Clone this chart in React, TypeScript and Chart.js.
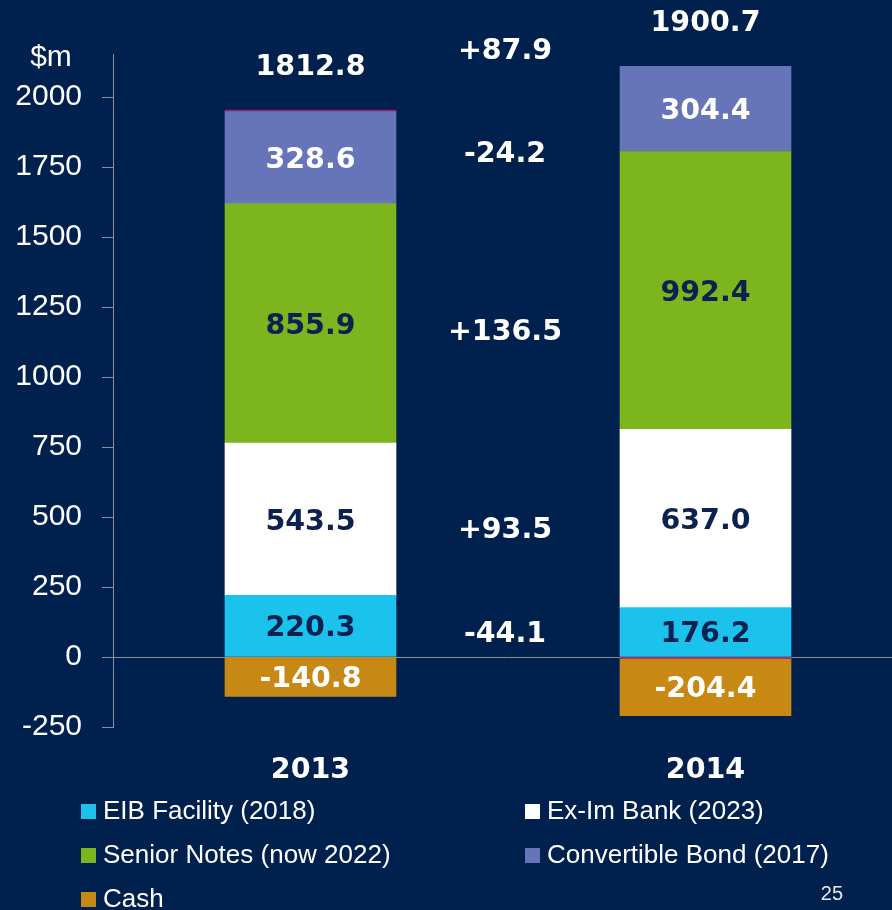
import React, { useEffect, useRef } from 'react';
import { Chart, registerables } from 'chart.js';

Chart.register(...registerables);

// ---- data ----
const categories = ['2013', '2014'];
const eibFacility = [220.3, 176.2];
const exImBank = [543.5, 637.0];
const seniorNotes = [855.9, 992.4];
const convertibleBond = [328.6, 304.4];
const otherItems = [5.3, -4.9];
const cash = [-140.8, -204.4];
const yMin = -250;
const yMax = 2154;
const yStep = 250;
const unitLabel = '$m';
const pageNumber = '25';

const BG = '#00204E';
const AXIS = '#8A8F9E';
const DARK_TEXT = '#0B2150';
const BOLD_FONT = 'bold 28.5px "DejaVu Sans"';

const seriesDefs = [
  { label: 'EIB Facility (2018)', data: eibFacility, color: '#1BC2EC', text: DARK_TEXT, legend: true, delta: 89 },
  { label: 'Ex-Im Bank (2023)', data: exImBank, color: '#FFFFFF', text: DARK_TEXT, legend: true, delta: 461 },
  { label: 'Senior Notes (now 2022)', data: seniorNotes, color: '#7DB51E', text: DARK_TEXT, legend: true, delta: 1168 },
  { label: 'Convertible Bond (2017)', data: convertibleBond, color: '#6674B8', text: '#FFFFFF', legend: true, delta: 1804 },
  { label: 'Other', data: otherItems, color: '#A0197A', text: null, legend: false, delta: null },
  { label: 'Cash', data: cash, color: '#C78913', text: '#FFFFFF', legend: true, delta: null },
];

const fmtDelta = (v: number) => (v >= 0 ? '+' : '') + v.toFixed(1);

const overlayPlugin = {
  id: 'overlay',
  afterDatasetsDraw(chart: any) {
    const ctx = chart.ctx;
    const ys = chart.scales.y;
    ctx.save();
    ctx.font = BOLD_FONT;
    ctx.textAlign = 'center';
    ctx.textBaseline = 'alphabetic';
    const capHalf = 10.4;

    // segment value labels
    seriesDefs.forEach((s, i) => {
      if (!s.text) return;
      const meta = chart.getDatasetMeta(i);
      meta.data.forEach((el: any, j: number) => {
        const cy = (el.y + el.base) / 2;
        ctx.fillStyle = s.text;
        ctx.fillText(s.data[j].toFixed(1), el.x, cy + capHalf);
      });
    });

    // totals above bars
    const totals = categories.map((_, j) => seriesDefs.reduce((a, s) => a + s.data[j], 0));
    const tops = categories.map((_, j) =>
      seriesDefs.reduce((a, s) => a + (s.data[j] > 0 ? s.data[j] : 0), 0)
    );
    const meta0 = chart.getDatasetMeta(0);
    ctx.fillStyle = '#FFFFFF';
    categories.forEach((_, j) => {
      const x = meta0.data[j].x;
      const yTop = ys.getPixelForValue(tops[j]);
      ctx.fillText(totals[j].toFixed(1), x, yTop - 46 + capHalf);
    });

    // deltas between the bars
    const midX = (meta0.data[0].x + meta0.data[1].x) / 2 - 3;
    seriesDefs.forEach((s) => {
      if (s.delta === null) return;
      const d = s.data[1] - s.data[0];
      ctx.fillText(fmtDelta(d), midX, ys.getPixelForValue(s.delta) + capHalf);
    });
    ctx.fillText(fmtDelta(totals[1] - totals[0]), midX, ys.getPixelForValue(2175) + capHalf);

    // unit label
    ctx.font = '30px "Liberation Sans"';
    ctx.fillText(unitLabel, 51, 66);

    // legend (two columns)
    const items = seriesDefs.filter((s) => s.legend);
    ctx.font = '26px "Liberation Sans"';
    ctx.textAlign = 'left';
    const colX = [81, 525];
    items.forEach((s, k) => {
      const col = k % 2;
      const row = Math.floor(k / 2);
      const baseY = 819 + row * 44;
      ctx.fillStyle = s.color;
      ctx.fillRect(colX[col], baseY - 15, 15, 15);
      ctx.fillStyle = '#FFFFFF';
      ctx.fillText(s.label, colX[col] + 22, baseY);
    });

    // page number
    ctx.font = '20px "Liberation Sans"';
    ctx.fillStyle = '#E6E8EE';
    ctx.textAlign = 'right';
    ctx.fillText(pageNumber, 843, 900);
    ctx.restore();
  },
};

export default function App() {
  const ref = useRef<HTMLCanvasElement | null>(null);

  useEffect(() => {
    if (!ref.current) return;
    const chart = new Chart(ref.current, {
      type: 'bar',
      data: {
        labels: categories,
        datasets: seriesDefs.map((s) => ({
          label: s.label,
          data: s.data,
          backgroundColor: s.color,
          borderWidth: 0,
          barThickness: 171,
        })),
      },
      options: {
        responsive: false,
        animation: false,
        devicePixelRatio: 1,
        layout: { padding: { top: 54, right: 17, bottom: 123, left: 0 } },
        plugins: { legend: { display: false }, tooltip: { enabled: false } },
        scales: {
          x: {
            stacked: true,
            grid: { display: false, drawTicks: false },
            border: { display: false },
            ticks: { color: '#FFFFFF', font: { family: 'DejaVu Sans', size: 28.5, weight: 'bold' }, padding: 26 },
            afterFit: (s: any) => { s.height = 60; },
          },
          y: {
            stacked: true,
            min: yMin,
            max: yMax,
            ticks: {
              stepSize: yStep,
              includeBounds: false,
              color: '#FFFFFF',
              font: { family: 'Liberation Sans', size: 30 },
              padding: 20,
              callback: (v: any) => String(v),
            },
            grid: {
              drawOnChartArea: true,
              color: (c: any) => (c.tick && c.tick.value === 0 ? AXIS : 'rgba(0,0,0,0)'),
              tickColor: AXIS,
              tickLength: 11,
              lineWidth: 1,
            },
            border: { display: true, color: AXIS, width: 1 },
            afterFit: (s: any) => { s.width = 113; },
          },
        },
      },
      plugins: [overlayPlugin],
    });
    return () => chart.destroy();
  }, []);

  return (
    <div style={{ position: 'fixed', left: 0, top: 0, width: 892, height: 910, overflow: 'hidden', background: BG }}>
      <canvas ref={ref} width={920} height={910} style={{ display: 'block' }} />
    </div>
  );
}
